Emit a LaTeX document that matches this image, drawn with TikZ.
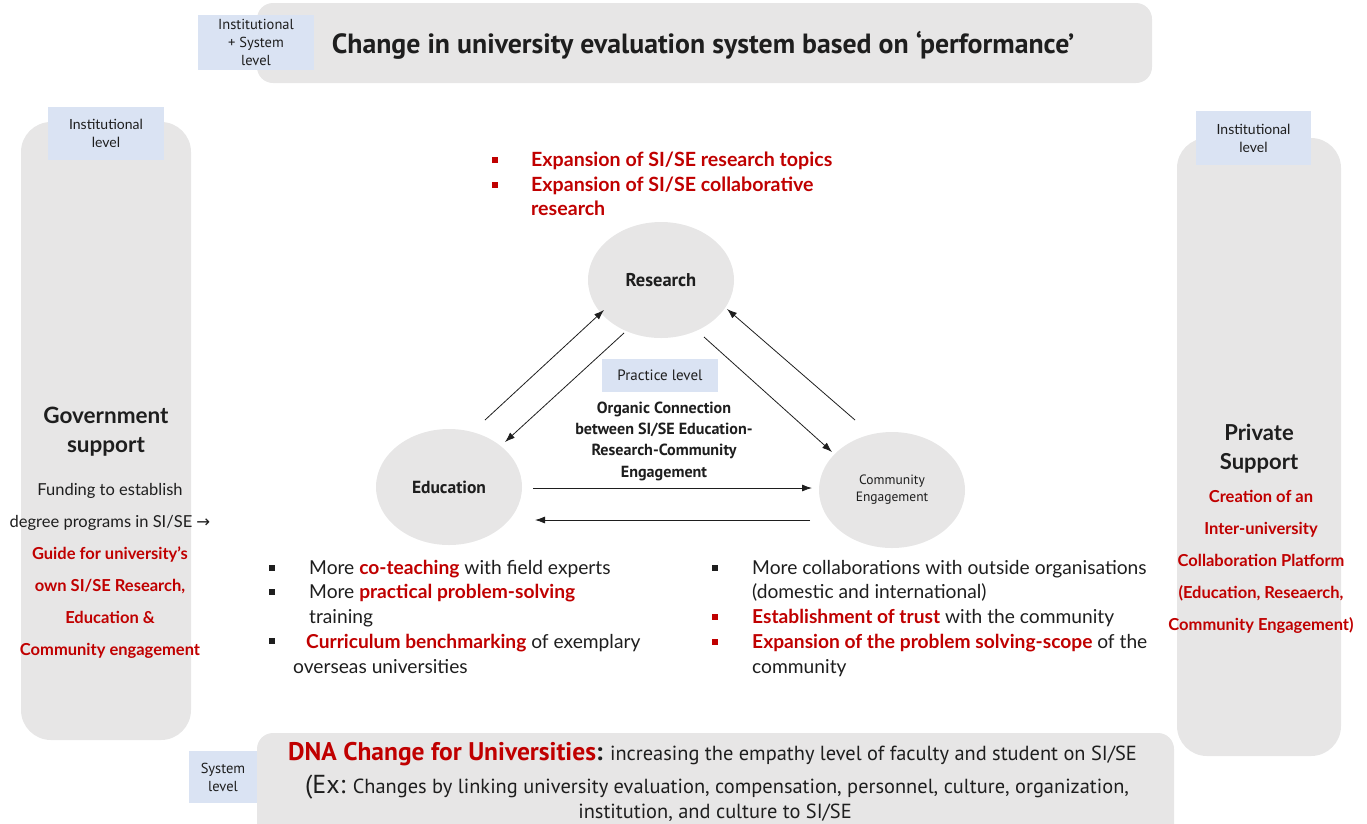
\documentclass[tikz,border=0pt]{standalone}
\usepackage{fontspec}
\setmainfont{Lato}
\newfontfamily\condf{PT Sans}
\newfontfamily\symf{DejaVu Sans}
\usetikzlibrary{shapes.geometric,arrows.meta}
\definecolor{panelgray}{HTML}{E7E6E6}
\definecolor{lvlblue}{HTML}{DAE3F3}
\definecolor{redc}{HTML}{C00000}
\definecolor{txtc}{HTML}{1E1E1E}
\newcommand\redb[1]{\textcolor{redc}{\bfseries #1}}
\newcommand\fsz[2]{\fontsize{#1}{#2}\selectfont}
\begin{document}
\begin{tikzpicture}[x=1pt,y=-1pt,
  panel/.style={fill=panelgray, draw=none},
  lvl/.style={fill=lvlblue, draw=none, inner sep=0pt, align=center, text=txtc},
  circ/.style={ellipse, fill=panelgray, minimum width=146pt, minimum height=116pt, inner sep=0pt, align=center, text=txtc},
  arr/.style={-{Latex[length=10pt,width=7pt]}, line width=0.8pt, draw=txtc},
  txt/.style={anchor=base west, inner sep=0pt, text=txtc, font=\fsz{19.2}{22}},
  bul/.style={rectangle, fill=txtc, minimum size=5.5pt, inner sep=0pt},
  rbul/.style={bul, fill=redc}]
\useasboundingbox (0,0) rectangle (1367,823);
\clip (0,0) rectangle (1367,823);

% panels
\fill[panel, rounded corners=16pt] (257,3) rectangle (1152,83);
\fill[panel, rounded corners=16pt] (257,733) rectangle (1174,860);
\fill[panel, rounded corners=30pt] (21,122) rectangle (191,740);
\fill[panel, rounded corners=30pt] (1177,138) rectangle (1341,756);

% level labels
\node[lvl, minimum width=116pt, minimum height=55pt, font=\condf\fsz{14.5}{18}] (lvtop) at (256,42.5) {Institutional\\+ System\\level};
\node[lvl, minimum width=116pt, minimum height=53pt, font=\fsz{14}{18}] (lvleft) at (106,133.5) {Institutional\\level};
\node[lvl, minimum width=115pt, minimum height=54pt, font=\fsz{14}{18}] (lvright) at (1253.5,138) {Institutional\\level};
\node[lvl, minimum width=116pt, minimum height=33pt, font=\condf\fsz{15}{18}] (lvprac) at (660,375.5) {Practice level};
\node[lvl, minimum width=68pt, minimum height=52pt, font=\condf\fsz{14.5}{18}] (lvsys) at (223,777) {System\\level};

% title
\node[text=txtc, font=\condf\bfseries\fsz{27.8}{32}] (title) at (703,45) {Change in university evaluation system based on ‘performance’};

% left panel
\node[align=center, text=txtc, font=\bfseries\fsz{22.5}{29}] (gov) at (106,432) {Government\\support};
\node[align=center, text=txtc, font=\fsz{16.5}{32}] (govtxt) at (110,571)
  {Funding to establish\\degree programs in SI/SE {\symf →}\\\redb{Guide for university’s}\\\redb{own SI/SE Research,}\\\redb{Education \&}\\\redb{Community engagement}};

% right panel
\node[align=center, text=txtc, font=\bfseries\fsz{22}{29}] (priv) at (1259,448.5) {Private\\Support};
\node[align=center, text=redc, font=\bfseries\fsz{16.5}{32}] (privtxt) at (1261,562)
  {Creation of an\\Inter-university\\Collaboration Platform\\(Education, Reseaerch,\\Community Engagement)};

% circles
\node[circ, font=\condf\bfseries\fsz{18.5}{22}] (res) at (661,280) {Research};
\node[circ, font=\condf\bfseries\fsz{17.5}{22}] (edu) at (449,487) {Education};
\node[circ, font=\condf\fsz{13.5}{17}] (com) at (892,490) {Community\\Engagement};

% arrow end points
\coordinate (er1) at (485,420); \coordinate (er2) at (604,310);
\coordinate (re1) at (624,333); \coordinate (re2) at (505,442);
\coordinate (rc1) at (704,337); \coordinate (rc2) at (832,452);
\coordinate (cr1) at (855,420); \coordinate (cr2) at (727,309);
\coordinate (ec1) at (533,488); \coordinate (ec2) at (812,488);
\coordinate (ce1) at (810,520); \coordinate (ce2) at (535,520);
\draw[arr] (er1) -- (er2);
\draw[arr] (re1) -- (re2);
\draw[arr] (rc1) -- (rc2);
\draw[arr] (cr1) -- (cr2);
\draw[arr] (ec1) -- (ec2);
\draw[arr] (ce1) -- (ce2);

\node[align=center, text=txtc, font=\condf\bfseries\fsz{16.1}{21.3}] (org) at (664,441)
  {Organic Connection\\between SI/SE Education-\\Research-Community\\Engagement};

% research bullets
\node[rbul] (tb1) at (495,160) {};
\node[rbul] (tb2) at (495,185) {};
\node[txt, text=redc, font=\bfseries\fsz{19.6}{22}] (tt1) at (531,166) {Expansion of SI/SE research topics};
\node[txt, text=redc, font=\bfseries\fsz{19.6}{22}] (tt2) at (531,191) {Expansion of SI/SE collaborative};
\node[txt, text=redc, font=\bfseries\fsz{19.6}{22}] (tt3) at (531,215) {research};

% education bullets
\node[bul] (lb1) at (272,568) {};
\node[bul] (lb2) at (272,592) {};
\node[bul] (lb3) at (272,641) {};
\node[txt] (lt1) at (309,574) {More \redb{co-teaching} with field experts};
\node[txt] (lt2) at (309,598) {More \redb{practical problem-solving}};
\node[txt] (lt3) at (309,623) {training};
\node[txt] (lt4) at (306,648) {\redb{Curriculum benchmarking} of exemplary};
\node[txt] (lt5) at (293,673) {overseas universities};

% community bullets
\node[bul] (rb1) at (715,568) {};
\node[rbul] (rb2) at (715,617) {};
\node[rbul] (rb3) at (715,642) {};
\node[txt] (rt1) at (752,574) {More collaborations with outside organisations};
\node[txt] (rt2) at (752,598) {(domestic and international)};
\node[txt] (rt3) at (752,623) {\redb{Establishment of trust} with the community};
\node[txt] (rt4) at (752,648) {\redb{Expansion of the problem solving-scope} of the};
\node[txt] (rt5) at (752,673) {community};

% bottom bar text
\node[txt, font=\condf\fsz{20.4}{22}] (bt1) at (288,760)
  {{\fsz{25.5}{28}\bfseries\textcolor{redc}{DNA Change for Universities}:} increasing the empathy level of faculty and student on SI/SE};
\node[txt, font=\condf\fsz{20.4}{22}] (bt2) at (305,793)
  {{\fsz{26}{28}(Ex:} Changes by linking university evaluation, compensation, personnel, culture, organization,};
\node[anchor=base, inner sep=0pt, text=txtc, font=\condf\fsz{20.4}{22}] (bt3) at (715,818) {institution, and culture to SI/SE};
\end{tikzpicture}
\end{document}
